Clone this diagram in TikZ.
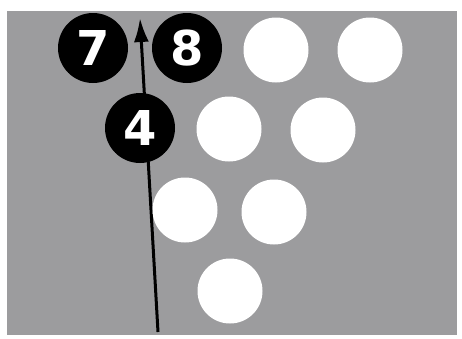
\documentclass[tikz,border=0pt]{standalone}
\usepackage{fontspec}
\usepackage{xcolor}
\usepackage{tikz}
\usetikzlibrary{arrows.meta}
\newfontfamily\pinfont{DejaVu Sans}
\definecolor{lanegray}{RGB}{156,156,158}

\begin{document}
\begin{tikzpicture}[
      x=1pt,
      y=-1pt,
      hitpin/.style={
        circle,
        fill=black,
        minimum size=70pt,
        inner sep=0pt,
        text=white,
        font=\pinfont\bfseries\fontsize{48}{48}\selectfont
      },
      pin/.style={circle, fill=white, minimum size=65pt, inner sep=0pt},
      roll/.style={-{Latex[length=24pt,width=15pt]}, line width=3pt}
    ]
    \useasboundingbox (0,0) rectangle (462,338);
    \fill[lanegray] (7,11) rectangle (457,335);

    % ball path, drawn under the pins
    \coordinate (start) at (158,332);
    \coordinate (aim) at (140,18);
    \draw[roll] (start) -- (aim);

    \node[hitpin] (p7) at (93,48) {7};
    \node[hitpin] (p8) at (187,48) {8};
    \node[pin] (p9) at (276,50) {};
    \node[pin] (p10) at (370,50) {};

    \node[hitpin] (p4) at (140,128) {4};
    \node[pin] (p5) at (229,129) {};
    \node[pin] (p6) at (323,130) {};

    \node[pin] (p2) at (185,210) {};
    \node[pin] (p3) at (274,212) {};

    \node[pin] (p1) at (230,291) {};
  \end{tikzpicture}
\end{document}
